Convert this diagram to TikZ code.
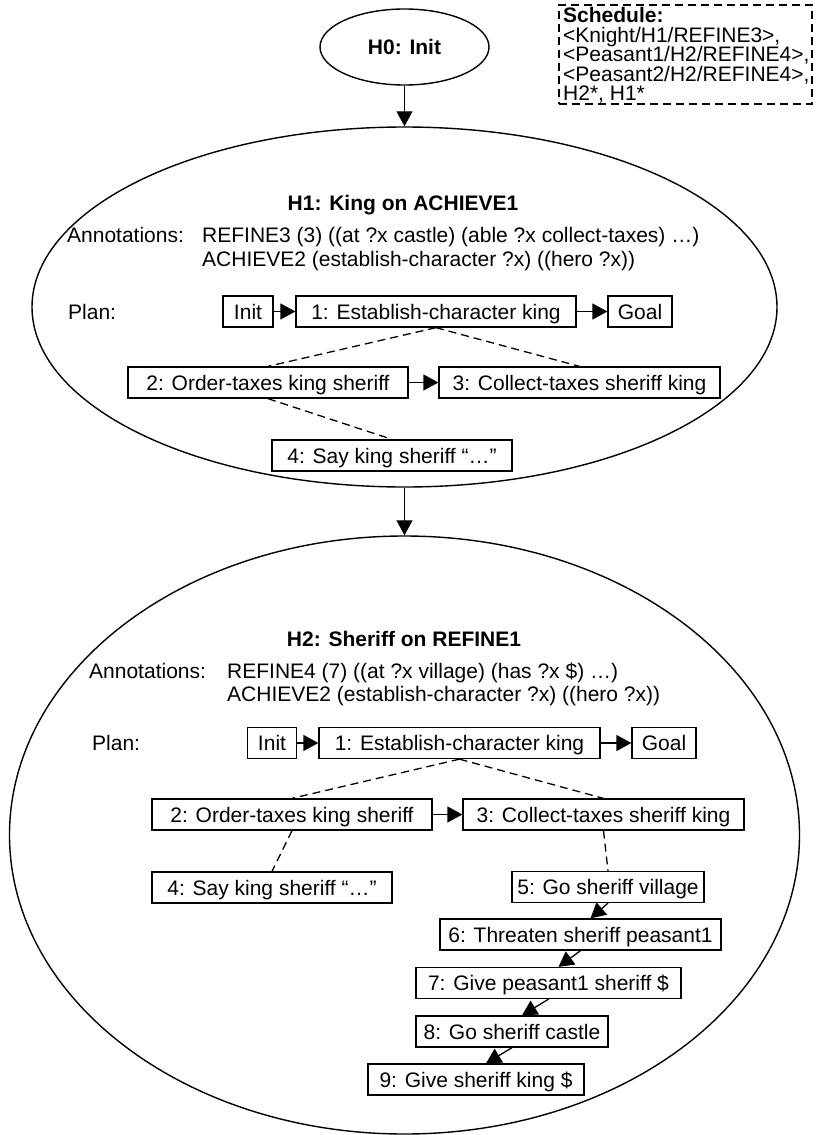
\documentclass[tikz,border=0pt]{standalone}
\usepackage{fontspec}
\setmainfont{Liberation Sans}
\usetikzlibrary{shapes.geometric,arrows.meta}
\begin{document}
\begin{tikzpicture}[x=1pt,y=-1pt,
  every node/.style={font=\fontsize{21}{23}\selectfont},
  stepbox/.style={draw,line width=1.3pt,inner sep=0pt,minimum height=31pt,text height=16pt,text depth=1pt},
  hyp/.style={draw,ellipse,line width=1.4pt,inner sep=0pt},
  seqarrow/.style={line width=1.3pt,-{Triangle[length=15pt,width=16pt]}},
  decomp/.style={line width=1.3pt,dash pattern=on 8pt off 5pt},
  txt/.style={anchor=base west,inner sep=0pt},
  hdr/.style={anchor=base,inner sep=0pt,font=\fontsize{21}{23}\selectfont\bfseries}
]
\useasboundingbox (0,0) rectangle (817,1135);

% Schedule
\node[draw,line width=1.3pt,dash pattern=on 8pt off 5pt,minimum width=253pt,minimum height=99pt,inner sep=0pt] (sched) at (685.5,54.5) {};
\node[txt,font=\fontsize{21}{23}\selectfont\bfseries] (sch0) at (563,22.5) {Schedule:};
\node[txt] (sch1) at (563,42) {<Knight/H1/REFINE3>,};
\node[txt] (sch2) at (563,61.5) {<Peasant1/H2/REFINE4>,};
\node[txt] (sch3) at (563,81) {<Peasant2/H2/REFINE4>,};
\node[txt] (sch4) at (563,100.5) {H2*, H1*};

% Hypotheses
\node[hyp,minimum width=169pt,minimum height=76pt,font=\fontsize{21}{23}\selectfont\bfseries] (h0) at (404.5,47) {H0: Init};
\node[hyp,minimum width=745pt,minimum height=360pt] (h1) at (404.5,307) {};
\node[hyp,minimum width=790pt,minimum height=598pt] (h2) at (404.5,835) {};
\draw[seqarrow] (h0.south) -- (h1.north);
\draw[seqarrow] (h1.south) -- (h2.north);

% H1 contents
\node[hdr] (t1) at (403,210) {H1: King on ACHIEVE1};
\node[txt] (a1) at (67,242) {Annotations:};
\node[txt] (a1r) at (202,242) {REFINE3 (3) ((at ?x castle) (able ?x collect-taxes) …)};
\node[txt] (a1a) at (202,266) {ACHIEVE2 (establish-character ?x) ((hero ?x))};
\node[txt] (p1) at (68,319.5) {Plan:};

\node[stepbox,minimum width=50pt] (i1) at (248,311.5) {Init};
\node[stepbox,minimum width=280pt] (e1) at (436,311.5) {1: Establish-character king};
\node[stepbox,minimum width=64pt] (g1) at (640,311.5) {Goal};
\node[stepbox,minimum width=280pt] (o1) at (268,382.5) {2: Order-taxes king sheriff};
\node[stepbox,minimum width=281pt] (c1) at (579.5,382.5) {3: Collect-taxes sheriff king};
\node[stepbox,minimum width=240pt] (s1) at (392,455.5) {4: Say king sheriff “…”};

\draw[seqarrow] (i1) -- (e1);
\draw[seqarrow] (e1) -- (g1);
\draw[seqarrow] (o1) -- (c1);
\draw[decomp] (e1.south) -- (o1.north);
\draw[decomp] (e1.south) -- (c1.north);
\draw[decomp] (o1.south) -- (s1.north);

% H2 contents
\node[hdr] (t2) at (404,646.5) {H2: Sheriff on REFINE1};
\node[txt] (a2) at (89,678.5) {Annotations:};
\node[txt] (a2r) at (227,678.5) {REFINE4 (7) ((at ?x village) (has ?x \$) …)};
\node[txt] (a2a) at (227,701.5) {ACHIEVE2 (establish-character ?x) ((hero ?x))};
\node[txt] (p2) at (92,750.5) {Plan:};

\node[stepbox,minimum width=49pt] (i2) at (272,743) {Init};
\node[stepbox,minimum width=281pt] (e2) at (459.5,743) {1: Establish-character king};
\node[stepbox,minimum width=64pt] (g2) at (664,743) {Goal};
\node[stepbox,minimum width=280pt] (o2) at (292,814.5) {2: Order-taxes king sheriff};
\node[stepbox,minimum width=281pt] (c2) at (603.5,814.5) {3: Collect-taxes sheriff king};
\node[stepbox,minimum width=240pt] (s2) at (272,887.5) {4: Say king sheriff “…”};
\node[stepbox,minimum width=192pt] (b5) at (608,887) {5: Go sheriff village};
\node[stepbox,minimum width=281pt] (b6) at (580.5,934.5) {6: Threaten sheriff peasant1};
\node[stepbox,minimum width=265pt] (b7) at (548.5,983) {7: Give peasant1 sheriff \$};
\node[stepbox,minimum width=192pt] (b8) at (512,1031.5) {8: Go sheriff castle};
\node[stepbox,minimum width=216pt] (b9) at (476,1079.5) {9: Give sheriff king \$};

\draw[seqarrow] (i2) -- (e2);
\draw[seqarrow] (e2) -- (g2);
\draw[seqarrow] (o2) -- (c2);
\draw[decomp] (e2.south) -- (o2.north);
\draw[decomp] (e2.south) -- (c2.north);
\draw[decomp] (o2.south) -- (s2.north);
\draw[decomp] (c2.south) -- (b5.north);
\draw[seqarrow] (b5.south) -- ([xshift=10pt]b6.north);
\draw[seqarrow] (b6.south) -- ([xshift=10pt]b7.north);
\draw[seqarrow] (b7.south) -- ([xshift=10pt]b8.north);
\draw[seqarrow] (b8.south) -- ([xshift=10pt]b9.north);
\end{tikzpicture}
\end{document}
